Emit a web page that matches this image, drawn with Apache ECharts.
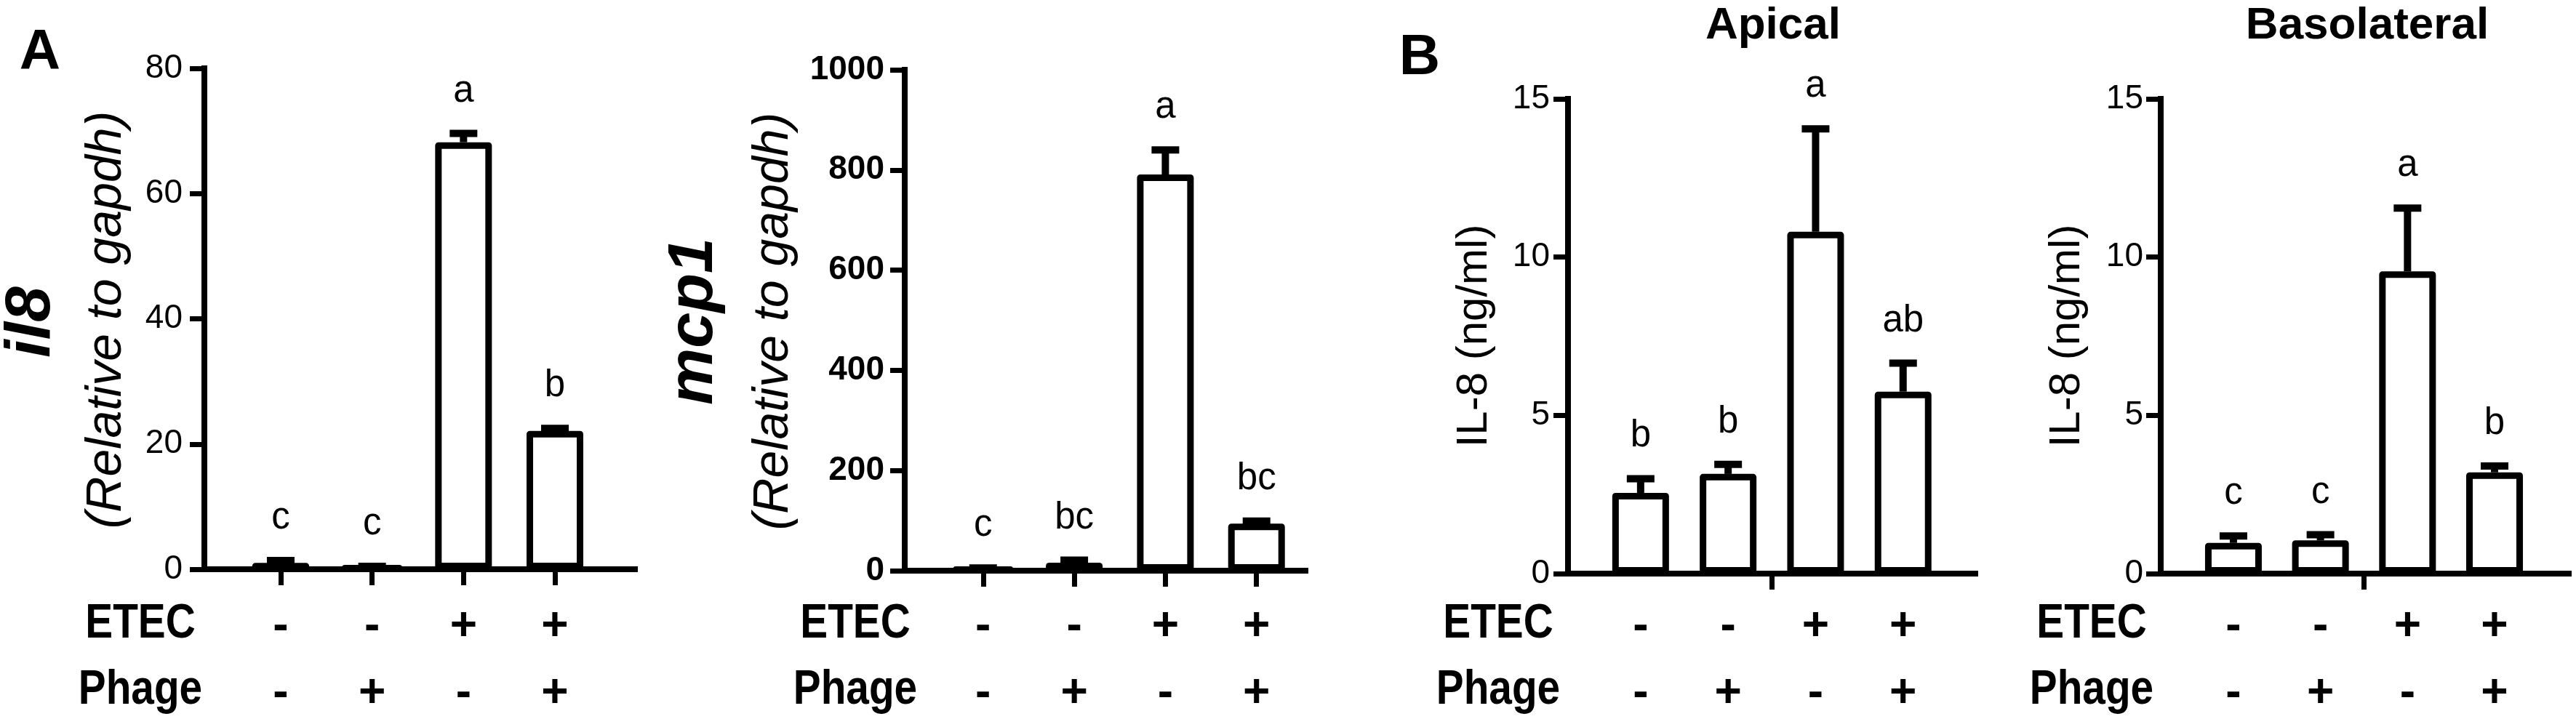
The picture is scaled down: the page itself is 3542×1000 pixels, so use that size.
<!DOCTYPE html>
<html>
<head>
<meta charset="utf-8">
<script src="https://cdn.jsdelivr.net/npm/echarts/dist/echarts.min.js"></script>
<style>
  html, body { margin: 0; padding: 0; background: #fff; }
  #chart { width: 3542px; height: 1000px; }
</style>
</head>
<body>
<div id="chart"></div>
<script>
// treatment groups (x positions) and their +/- rows
const groupPos = [1, 2, 3, 4];
const etec = ['-', '-', '+', '+'];
const phage = ['-', '+', '-', '+'];

// A: il8 mRNA
const il8Mean = [1.0, 0.35, 68.2, 22.1];
const il8Err = [0.4, 0.1, 1.4, 0.4];
const il8Sig = ['c', 'c', 'a', 'b'];
const il8Ticks = [0, 20, 40, 60, 80];

// A: mcp1 mRNA
const mcp1Mean = [4, 16, 791, 94];
const mcp1Err = [1.5, 5, 49, 5];
const mcp1Sig = ['c', 'bc', 'a', 'bc'];
const mcp1Ticks = [0, 200, 400, 600, 800, 1000];

// B: IL-8 apical
const apicalMean = [2.55, 3.15, 10.8, 5.75];
const apicalErr = [0.45, 0.3, 3.25, 0.9];
const apicalSig = ['b', 'b', 'a', 'ab'];
const apicalTicks = [0, 5, 10, 15];

// B: IL-8 basolateral
const basoMean = [0.97, 1.05, 9.55, 3.2];
const basoErr = [0.22, 0.18, 2.0, 0.2];
const basoSig = ['c', 'c', 'a', 'b'];
const basoTicks = [0, 5, 10, 15];

const FONT = '"Liberation Sans", Arial, sans-serif';
const LW = 8;

const panels = [
  { mean: il8Mean, err: il8Err, sig: il8Sig, ticks: il8Ticks,
    grid: { left: 281, top: 94, width: 592, height: 697 }, xMin: 0.165, xMax: 4.875,
    xTicks: groupPos, labelMargin: 33, tickBold: false, tickMargin: 30 },
  { mean: mcp1Mean, err: mcp1Err, sig: mcp1Sig, ticks: mcp1Ticks,
    grid: { left: 1244, top: 96, width: 551, height: 697 }, xMin: 0.14, xMax: 4.537,
    xTicks: groupPos, labelMargin: 31, tickBold: true, tickMargin: 28 },
  { mean: apicalMean, err: apicalErr, sig: apicalSig, ticks: apicalTicks,
    grid: { left: 2156, top: 136, width: 560, height: 661 }, xMin: 0.17, xMax: 4.825,
    xTicks: [2.5], labelMargin: 27, tickBold: false, tickMargin: 25 },
  { mean: basoMean, err: basoErr, sig: basoSig, ticks: basoTicks,
    grid: { left: 2971, top: 136, width: 561, height: 661 }, xMin: 0.165, xMax: 4.852,
    xTicks: [2.5], labelMargin: 27, tickBold: false, tickMargin: 24 }
];

function errorRenderer(sig) {
  return function (params, api) {
    const x = api.value(0), m = api.value(1), e = api.value(2);
    const base = api.coord([x, m]);
    const top = api.coord([x, m + e]);
    const children = [];
    if (e > 0) {
      children.push({ type: 'line', shape: { x1: base[0], y1: base[1], x2: top[0], y2: top[1] },
        style: { stroke: '#000', lineWidth: 10 } });
      children.push({ type: 'line', shape: { x1: top[0] - 19, y1: top[1], x2: top[0] + 19, y2: top[1] },
        style: { stroke: '#000', lineWidth: 10 } });
    }
    children.push({ type: 'text', x: top[0], y: top[1] - 58,
      style: { text: sig[params.dataIndex], fill: '#000', font: '51px ' + FONT,
        textAlign: 'center', textVerticalAlign: 'middle', align: 'center', verticalAlign: 'middle' } });
    return { type: 'group', children: children };
  };
}

const grids = [], xAxes = [], yAxes = [], series = [];
panels.forEach(function (p, i) {
  grids.push(p.grid);
  xAxes.push({
    type: 'value', gridIndex: i, min: p.xMin, max: p.xMax,
    splitLine: { show: false },
    axisLine: { show: true, lineStyle: { color: '#000', width: LW, cap: 'square' } },
    axisTick: { show: true, customValues: p.xTicks, length: 22, lineStyle: { color: '#000', width: 7 } },
    axisLabel: {
      show: true, customValues: groupPos, margin: p.labelMargin,
      color: '#000', fontFamily: FONT, fontSize: 64, fontWeight: 'bold', lineHeight: 92,
      formatter: function (v) { const k = Math.round(v) - 1; return etec[k] + '\n' + phage[k]; }
    }
  });
  const t = p.ticks;
  yAxes.push({
    type: 'value', gridIndex: i, min: t[0], max: t[t.length - 1], interval: t[1] - t[0],
    splitLine: { show: false },
    axisLine: { show: true, lineStyle: { color: '#000', width: LW, cap: 'square' } },
    axisTick: { show: true, length: 20, lineStyle: { color: '#000', width: 7 } },
    axisLabel: { color: '#000', fontFamily: FONT, fontSize: 46, margin: p.tickMargin,
      fontWeight: p.tickBold ? 'bold' : 'normal',
      formatter: function (v) { return String(v); } }
  });
  series.push({
    type: 'bar', xAxisIndex: i, yAxisIndex: i, barWidth: 78,
    data: groupPos.map(function (x, k) { return [x, p.mean[k]]; }),
    itemStyle: { color: '#fff', borderColor: '#000', borderWidth: 9, borderJoin: 'round' },
    z: 2
  });
  series.push({
    type: 'custom', xAxisIndex: i, yAxisIndex: i,
    data: groupPos.map(function (x, k) { return [x, p.mean[k], p.err[k]]; }),
    encode: { x: 0, y: 1 },
    renderItem: errorRenderer(p.sig),
    z: 3
  });
});

function txt(s, x, y, font, extra) {
  const el = { type: 'text', x: x, y: y,
    style: { text: s, fill: '#000', font: font,
      textAlign: 'center', textVerticalAlign: 'middle', align: 'center', verticalAlign: 'middle' } };
  return Object.assign(el, extra || {});
}
const ROT = { rotation: Math.PI / 2 };
const rowX = [193, 1176, 2060, 2876];

const graphics = [
  txt('A', 55, 73, 'bold 78px ' + FONT),
  txt('B', 1952, 80, 'bold 78px ' + FONT),
  txt('Apical', 2438, 36, 'bold 62px ' + FONT),
  txt('Basolateral', 3255, 36, 'bold 62px ' + FONT),
  // y-axis titles
  txt('il8', 44, 443, 'italic bold 88px ' + FONT, ROT),
  txt('(Relative to gapdh)', 147, 440, 'italic 68px ' + FONT, ROT),
  txt('mcp1', 955, 442, 'italic bold 88px ' + FONT, ROT),
  txt('(Relative to gapdh)', 1064, 442, 'italic 68px ' + FONT, ROT),
  txt('IL-8 (ng/ml)', 2027, 462, '60px ' + FONT, ROT),
  txt('IL-8 (ng/ml)', 2842, 462, '60px ' + FONT, ROT)
];
rowX.forEach(function (x) {
  graphics.push(txt('ETEC', x, 859, 'bold 66px ' + FONT, { scaleX: 0.86 }));
  graphics.push(txt('Phage', x, 950, 'bold 66px ' + FONT, { scaleX: 0.86 }));
});

const chart = echarts.init(document.getElementById('chart'));
chart.setOption({
  backgroundColor: '#fff',
  animation: false,
  grid: grids,
  xAxis: xAxes,
  yAxis: yAxes,
  series: series,
  graphic: graphics
});
</script>
</body>
</html>
